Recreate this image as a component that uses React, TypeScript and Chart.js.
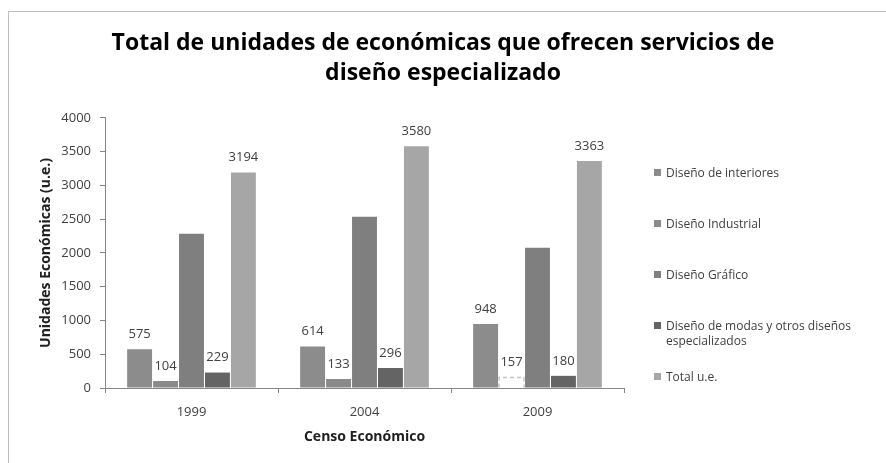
import React, { useEffect, useRef } from 'react';
import { Chart, registerables, layouts } from 'chart.js';

Chart.register(...registerables);

// ---- data ----
const categories = ['1999', '2004', '2009'];
const seriesNames = [
  'Diseño de interiores',
  'Diseño Industrial',
  'Diseño Gráfico',
  'Diseño de modas y otros diseños especializados',
  'Total u.e.',
];
const legendLines = [
  ['Diseño de interiores'],
  ['Diseño Industrial'],
  ['Diseño Gráfico'],
  ['Diseño de modas y otros diseños', 'especializados'],
  ['Total u.e.'],
];
const interiores = [575, 614, 948];
const industrial = [104, 133, 157];
const grafico = [2286, 2537, 2078];
const modas = [229, 296, 180];
const total = [3194, 3580, 3363];
const yMin = 0;
const yMax = 4000;
const yStep = 500;
const titleLines = ['Total de unidades de económicas que ofrecen servicios de', 'diseño especializado'];
const yTitle = 'Unidades Económicas (u.e.)';
const xTitle = 'Censo Económico';

// ---- style ----
const FONT = '"Open Sans", sans-serif';
const seriesColors = ['#8c8c8c', '#8a8a8a', '#7f7f7f', '#646464', '#a6a6a6'];
const showValueLabels = [true, true, false, true, true];
const dashedBars: Array<[number, number]> = [[1, 2]];

export default function App() {
  const canvasRef = useRef<HTMLCanvasElement | null>(null);

  useEffect(() => {
    const canvas = canvasRef.current;
    if (!canvas) return;

    const seriesData = [interiores, industrial, grafico, modas, total];

    const legendBoxPlugin = {
      id: 'legendBox',
      beforeInit(chart: any) {
        const box: any = {
          position: 'right',
          weight: 1000,
          fullSize: false,
          options: {},
          left: 0, top: 0, right: 0, bottom: 0, width: 0, height: 0,
          isHorizontal() { return false; },
          update(maxWidth: number, maxHeight: number) {
            this.width = 262;
            this.height = maxHeight;
          },
          draw() {
            const ctx = chart.ctx;
            const area = chart.chartArea;
            ctx.save();
            ctx.font = `12px ${FONT}`;
            ctx.textAlign = 'left';
            ctx.textBaseline = 'middle';
            legendLines.forEach((lines, i) => {
              const y = area.top + 56 + i * 51;
              ctx.fillStyle = seriesColors[i];
              ctx.fillRect(area.right + 30, y - 5, 7, 7);
              ctx.fillStyle = '#404040';
              lines.forEach((t, j) => ctx.fillText(t, area.right + 42, y + j * 15));
            });
            ctx.restore();
          },
        };
        layouts.addBox(chart, box);
      },
    };

    const valueLabelPlugin = {
      id: 'valueLabels',
      afterDatasetsDraw(chart: any) {
        const ctx = chart.ctx;
        ctx.save();
        dashedBars.forEach(([d, i]) => {
          const el = chart.getDatasetMeta(d).data[i];
          if (!el) return;
          ctx.setLineDash([4, 3]);
          ctx.strokeStyle = '#c4c4c4';
          ctx.lineWidth = 1.5;
          ctx.beginPath();
          ctx.moveTo(el.x - el.width / 2, el.base);
          ctx.lineTo(el.x - el.width / 2, el.y);
          ctx.lineTo(el.x + el.width / 2, el.y);
          ctx.lineTo(el.x + el.width / 2, el.base);
          ctx.stroke();
        });
        ctx.setLineDash([]);
        ctx.font = `13px ${FONT}`;
        ctx.fillStyle = '#404040';
        ctx.textAlign = 'center';
        ctx.textBaseline = 'middle';
        chart.data.datasets.forEach((ds: any, d: number) => {
          if (!showValueLabels[d]) return;
          const meta = chart.getDatasetMeta(d);
          meta.data.forEach((el: any, i: number) => {
            ctx.fillText(String(ds.data[i]), el.x, el.y - 15);
          });
        });
        ctx.restore();
      },
    };

    const chart = new Chart(canvas, {
      type: 'bar',
      data: {
        labels: categories,
        datasets: seriesNames.map((name, i) => ({
          label: name,
          data: seriesData[i],
          backgroundColor:
            i === 1
              ? seriesData[i].map((_, k) => (dashedBars.some(([d, b]) => d === 1 && b === k) ? '#ffffff' : seriesColors[i]))
              : seriesColors[i],
          borderWidth: 0,
          categoryPercentage: 0.75,
          barPercentage: 0.96,
        })),
      },
      options: {
        responsive: false,
        animation: false,
        events: [],
        layout: { padding: 0 },
        plugins: {
          legend: { display: false },
          tooltip: { enabled: false },
          title: {
            display: true,
            text: titleLines,
            color: '#000000',
            font: { family: FONT, size: 23, weight: 'bold', lineHeight: 1.304 },
            padding: { top: 28, bottom: 30 },
          },
        },
        scales: {
          x: {
            grid: {
              display: true,
              drawOnChartArea: false,
              drawTicks: true,
              tickLength: 5,
              color: '#868686',
              offset: true,
            },
            border: { display: true, color: '#868686' },
            ticks: {
              color: '#404040',
              font: { family: FONT, size: 13 },
              padding: 11,
            },
            title: {
              display: true,
              text: xTitle,
              color: '#202020',
              font: { family: FONT, size: 14, weight: 'bold' },
              padding: { top: 0, bottom: 17.6 },
            },
            afterFit(scale: any) {
              scale.height = 75;
            },
          },
          y: {
            min: yMin,
            max: yMax,
            ticks: {
              stepSize: yStep,
              color: '#404040',
              font: { family: FONT, size: 13 },
              padding: 9,
              callback: (v: any) => String(v),
            },
            grid: {
              display: true,
              drawOnChartArea: false,
              drawTicks: true,
              tickLength: 5,
              color: '#868686',
            },
            border: { display: true, color: '#868686' },
            title: {
              display: true,
              text: yTitle,
              color: '#202020',
              font: { family: FONT, size: 14, weight: 'bold' },
              padding: { top: 37.6, bottom: 0 },
            },
            afterFit(scale: any) {
              scale.width = 105;
            },
          },
        },
      },
      plugins: [legendBoxPlugin, valueLabelPlugin],
    } as any);

    return () => {
      chart.destroy();
    };
  }, []);

  return (
    <div
      style={{
        position: 'fixed',
        left: 0,
        top: 0,
        width: 886,
        height: 463,
        background: '#ffffff',
        overflow: 'hidden',
      }}
    >
      <div
        style={{
          position: 'absolute',
          left: 8,
          top: 11,
          width: 1000,
          height: 1000,
          borderTop: '1px solid #bfbfbf',
          borderLeft: '1px solid #bfbfbf',
        }}
      />
      <canvas
        ref={canvasRef}
        width={886}
        height={463}
        style={{ position: 'absolute', left: 0, top: 0 }}
      />
    </div>
  );
}
